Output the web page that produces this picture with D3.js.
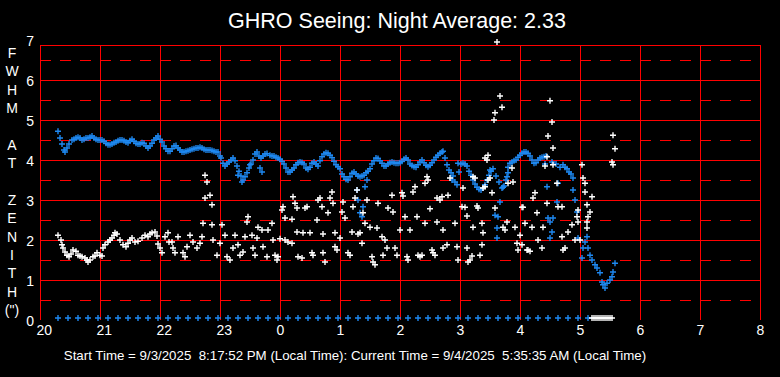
<!DOCTYPE html>
<html>
<head>
<meta charset="utf-8">
<script src="https://cdn.jsdelivr.net/npm/d3@7"></script>
<style>
  html, body { margin: 0; padding: 0; background: #000; }
  svg { display: block; font-family: "Liberation Sans", Arial, sans-serif; }
</style>
</head>
<body>
<svg id="drawing_region"></svg>
<script>
// axis labels
const hourLabels = ["20","21","22","23","0","1","2","3","4","5","6","7","8"];
const yTicks = [0,1,2,3,4,5,6,7];
const sideLabel = ["F","W","H","M","","A","T","","Z","E","N","I","T","H","(\")"];
const titleText = "GHRO Seeing: Night Average: 2.33";
const footerText = "Start Time = 9/3/2025  8:17:52 PM (Local Time): Current Time = 9/4/2025  5:35:35 AM (Local Time)";

// blue series (FWHM at zenith), [local time, arcsec]
const blueSeries = [
 ["20:18",4.72],["20:20",4.55],["20:22",4.4],["20:24",4.25],["20:25",4.2],["20:27",4.3],["20:29",4.4],["20:32",4.5],
 ["20:34",4.52],["20:36",4.55],["20:38",4.57],["20:40",4.55],["20:42",4.5],["20:44",4.52],["20:46",4.55],["20:48",4.55],
 ["20:50",4.57],["20:52",4.6],["20:54",4.55],["20:56",4.52],["20:58",4.5],["21:00",4.5],["21:02",4.5],["21:04",4.47],
 ["21:06",4.42],["21:08",4.38],["21:10",4.38],["21:12",4.4],["21:14",4.43],["21:16",4.45],["21:18",4.48],["21:20",4.5],
 ["21:22",4.5],["21:24",4.48],["21:26",4.45],["21:28",4.43],["21:30",4.48],["21:32",4.52],["21:34",4.47],["21:36",4.42],
 ["21:38",4.4],["21:40",4.4],["21:42",4.43],["21:44",4.42],["21:46",4.35],["21:48",4.3],["21:50",4.35],["21:52",4.42],
 ["21:54",4.5],["21:56",4.55],["21:58",4.6],["22:00",4.52],["22:02",4.45],["22:04",4.35],["22:06",4.28],["22:08",4.22],
 ["22:10",4.22],["22:12",4.28],["22:14",4.35],["22:16",4.36],["22:18",4.3],["22:20",4.25],["22:22",4.2],["22:24",4.2],
 ["22:26",4.22],["22:28",4.23],["22:30",4.25],["22:32",4.27],["22:34",4.28],["22:36",4.3],["22:38",4.3],["22:40",4.32],
 ["22:42",4.3],["22:44",4.27],["22:46",4.25],["22:48",4.25],["22:50",4.25],["22:52",4.24],["22:54",4.22],["22:56",4.2],
 ["22:58",4.2],["23:00",4.1],["23:01",4.05],["23:03",3.92],["23:05",3.85],["23:07",3.9],["23:09",3.95],["23:11",4.0],
 ["23:13",4.05],["23:15",3.98],["23:17",3.85],["23:19",3.72],["23:21",3.6],["23:23",3.5],["23:25",3.58],["23:27",3.68],
 ["23:29",3.8],["23:31",3.9],["23:33",4.0],["23:35",4.15],["23:37",4.2],["23:39",4.1],["23:41",4.05],["23:43",4.1],
 ["23:45",4.15],["23:47",4.16],["23:50",4.12],["23:52",4.1],["23:54",4.1],["23:56",4.07],["23:58",4.05],["0:00",4.02],
 ["0:02",3.97],["0:04",3.9],["0:06",3.8],["0:08",3.7],["0:10",3.7],["0:12",3.75],["0:14",3.8],["0:16",3.88],
 ["0:18",3.93],["0:20",3.95],["0:22",3.94],["0:24",3.9],["0:26",3.8],["0:28",3.77],["0:30",3.82],["0:32",3.92],
 ["0:34",3.95],["0:36",3.9],["0:38",3.85],["0:40",3.98],["0:42",4.08],["0:44",4.15],["0:46",4.18],["0:48",4.17],
 ["0:50",4.12],["0:52",4.06],["0:54",3.97],["0:56",3.88],["0:58",3.83],["1:00",3.78],["1:02",3.65],["1:04",3.58],
 ["1:06",3.52],["1:08",3.5],["1:10",3.58],["1:12",3.67],["1:14",3.7],["1:16",3.65],["1:18",3.6],["1:20",3.58],
 ["1:22",3.6],["1:24",3.62],["1:26",3.68],["1:28",3.72],["1:30",3.78],["1:32",3.9],["1:34",3.98],["1:36",4.05],
 ["1:38",4.04],["1:40",3.98],["1:42",3.92],["1:44",3.85],["1:46",3.85],["1:48",3.9],["1:50",3.93],["1:52",3.95],
 ["1:54",3.93],["1:56",3.92],["1:58",3.92],["2:00",3.93],["2:02",3.97],["2:04",4.02],["2:06",4.05],["2:08",4.0],
 ["2:10",3.9],["2:12",3.86],["2:14",3.83],["2:16",3.82],["2:18",3.88],["2:20",3.95],["2:22",4.0],["2:24",3.93],
 ["2:26",3.87],["2:28",3.83],["2:30",3.87],["2:32",3.93],["2:34",4.0],["2:36",4.07],["2:38",4.12],["2:40",4.17],
 ["2:42",4.2],["2:43",4.22],["2:45",4.05],["2:47",3.88],["2:49",3.75],["2:51",3.68],["2:53",3.6],["2:55",3.45],
 ["2:57",3.38],["2:59",3.7],["3:01",3.9],["3:03",3.92],["3:05",3.9],["3:07",3.85],["3:09",3.72],["3:11",3.62],
 ["3:13",3.5],["3:15",3.4],["3:17",3.32],["3:19",3.27],["3:21",3.25],["3:23",3.3],["3:25",3.38],["3:27",3.5],
 ["3:29",3.62],["3:31",3.72],["3:33",3.78],["3:36",3.6],["3:39",3.45],["3:42",3.3],["3:44",3.35],["3:46",3.5],
 ["3:48",3.68],["3:50",3.92],["3:52",3.95],["3:54",3.98],["3:56",4.0],["3:58",4.07],["4:00",4.12],["4:02",4.17],
 ["4:04",4.2],["4:06",4.2],["4:08",4.17],["4:10",4.1],["4:12",4.0],["4:14",3.92],["4:16",3.93],["4:18",4.0],
 ["4:20",4.05],["4:22",4.07],["4:24",4.08],["4:26",4.1],["4:32",3.95],["4:36",3.9],["4:40",3.82],["4:43",3.88],
 ["4:45",3.82],["4:47",3.78],["4:49",3.7],["4:51",3.65],["4:53",3.55],
 // scattered blue
 ["23:18",3.62],["23:22",3.45],["23:30",3.88],["23:40",3.8],["23:42",3.7],
 ["1:17",3.25],["1:18",3.0],["1:20",2.68],["1:22",2.58],["1:23",2.83],["1:25",3.33],["1:27",3.5],
 ["2:52",3.5],["2:58",3.92],["3:30",3.75],["3:35",2.62],["3:37",2.3],["3:37",2.05],["3:38",2.58],["3:40",2.95],
 ["3:43",3.32],["3:47",3.58],["3:48",3.82],
 ["4:25",3.9],["4:27",3.33],["4:28",2.55],["4:30",2.45],["4:30",2.05],["4:32",2.2],["4:33",2.55],["4:37",2.95],["4:38",3.42],
 ["4:53",3.25],["4:55",3.0],["4:57",2.7],["4:58",2.05],
 // final decline
 ["5:02",1.55],["5:03",1.8],["5:05",1.95],["5:07",2.08],["5:08",1.8],["5:10",1.62],["5:12",1.5],["5:15",1.38],
 ["5:17",1.3],["5:20",1.18],["5:22",0.95],["5:23",0.88],["5:25",0.8],["5:27",0.92],["5:30",1.0],["5:32",1.08],
 ["5:33",1.2],["5:35",1.42]
];

// blue readings at zero
const blueZero = ["20:18","20:28","20:38","20:48","20:58","21:08","21:18","21:28","21:38","21:48","21:58",
 "22:08","22:18","22:28","22:38","22:48","22:58","23:08","23:18","23:28","23:38","23:48","23:58",
 "0:08","0:18","0:28","0:38","0:48","0:58","1:08","1:18","1:28","1:38","1:48","1:58",
 "2:08","2:18","2:28","2:38","2:48","2:58","3:08","3:18","3:28","3:38","3:48","3:58",
 "4:08","4:18","4:28","4:38","4:48","4:58","5:08"];

// white series, [local time, arcsec]
const whiteSeries = [
 ["20:18",2.12],["20:21",2.0],["20:22",1.88],["20:23",1.8],["20:25",1.7],["20:27",1.62],["20:29",1.58],["20:31",1.65],
 ["20:33",1.75],["20:36",1.72],["20:38",1.62],["20:40",1.6],["20:42",1.58],["20:45",1.55],["20:47",1.5],["20:48",1.45],
 ["20:50",1.5],["20:53",1.58],["20:55",1.6],["20:57",1.68],["21:00",1.62],["21:02",1.6],["21:03",1.8],["21:05",1.88],
 ["21:08",1.95],["21:10",2.0],["21:12",2.05],["21:14",2.12],["21:15",2.18],["21:17",2.15],["21:20",2.0],["21:23",1.88],
 ["21:26",1.83],["21:28",1.92],["21:30",2.0],["21:32",2.05],["21:35",1.95],["21:38",1.97],["21:42",2.05],["21:45",2.12],
 ["21:48",2.08],["21:50",2.15],["21:52",2.18],["21:55",2.2],["21:57",2.1],["21:58",1.9],["22:00",1.8],["22:02",1.68],
 ["22:05",2.08],["22:08",2.18],["22:09",1.95],["22:12",1.95],["22:13",1.8],["22:15",1.68],["22:18",2.08],["22:23",1.68],
 ["22:25",1.58],["22:27",1.83],["22:30",2.12],["22:33",1.95],["22:37",1.8],["22:40",1.92],["22:42",2.08],
 ["22:45",3.62],["22:47",3.45],["22:45",3.05],["22:50",3.12],["22:52",2.88],["22:43",2.42],["22:52",2.38],["22:53",2.0],
 ["22:57",1.62],["23:00",1.92],["23:02",2.38],["23:05",2.12],["23:07",1.58],["23:10",1.5],["23:13",1.8],["23:15",2.12],
 ["23:18",1.88],["23:20",1.62],["23:23",1.7],["23:25",2.08],["23:27",2.45],["23:28",2.58],["23:32",2.12],["23:33",1.8],
 ["23:35",1.62],["23:37",2.05],["23:38",2.32],["23:42",2.25],["23:43",1.83],["23:47",1.58],["23:48",2.25],["23:52",2.42],
 ["23:53",2.0],["23:55",1.62],["23:57",1.5],["23:58",1.58],["0:00",2.03],["0:02",2.75],["0:03",2.83],["0:05",2.55],
 ["0:05",2.0],["0:08",1.95],["0:12",1.92],["0:12",2.52],["0:13",3.08],["0:15",2.92],["0:17",2.8],["0:17",2.2],
 ["0:18",1.58],["0:22",1.55],["0:23",2.18],["0:25",2.8],["0:27",2.83],["0:30",2.18],["0:32",1.68],["0:33",1.62],
 ["0:37",2.5],["0:38",3.0],["0:40",3.05],["0:42",2.83],["0:43",2.15],["0:43",1.68],["0:45",1.45],["0:48",2.68],
 ["0:50",3.05],["0:52",3.2],["0:53",2.92],["0:55",2.18],["0:55",1.83],["0:57",1.75],["1:00",2.05],["1:02",2.7],
 ["1:03",2.95],["1:05",2.55],["1:08",1.68],["1:10",1.62],["1:12",2.2],["1:13",2.83],["1:15",3.05],["1:17",3.25],
 ["1:18",2.15],["1:20",2.18],["1:22",1.92],["1:23",2.68],["1:25",2.42],["1:27",3.0],["1:30",2.32],["1:32",1.58],
 ["1:33",1.45],["1:35",1.38],["1:37",2.3],["1:38",2.92],["1:42",2.08],["1:43",1.62],["1:45",2.0],["1:47",1.8],
 ["1:48",2.8],["1:52",3.12],["1:53",2.7],["1:55",1.8],["1:57",1.62],["2:00",2.25],["2:02",3.18],["2:03",3.1],
 ["2:05",2.58],["2:07",1.58],["2:08",1.5],["2:10",2.25],["2:13",3.2],["2:15",3.33],["2:17",2.58],["2:18",1.62],
 ["2:20",1.58],["2:22",1.62],["2:25",3.42],["2:25",2.42],["2:27",3.58],["2:28",3.5],["2:30",2.78],["2:32",1.75],
 ["2:33",1.68],["2:35",1.62],["2:37",3.05],["2:37",2.45],["2:40",3.0],["2:42",3.08],["2:43",2.25],["2:43",1.8],
 ["2:47",1.88],["2:48",3.12],["2:50",3.55],["2:55",2.42],["2:57",1.83],["2:58",1.5],["3:02",2.83],["3:03",3.3],
 ["3:05",2.82],["3:07",1.8],["3:07",2.6],["3:08",1.45],["3:10",1.5],["3:12",1.6],["3:13",2.32],["3:13",3.58],
 ["3:15",3.55],["3:17",2.85],["3:18",2.8],["3:20",1.62],["3:22",1.88],["3:22",2.42],["3:23",2.18],["3:23",3.3],
 ["3:25",3.33],["3:25",4.05],["3:27",4.0],["3:28",4.12],["3:28",3.5],["3:30",3.55],["3:32",3.18],["3:34",5.0],
 ["3:35",5.18],["3:35",2.8],["3:37",6.95],["3:40",5.6],["3:42",5.32],["3:43",2.32],["3:45",2.25],["3:47",2.45],
 ["3:48",3.42],["3:52",3.8],["3:53",3.45],["3:55",2.32],["3:57",1.92],["3:58",1.75],["4:00",2.12],["4:02",1.88],
 ["4:02",2.82],["4:03",2.82],["4:05",2.42],["4:07",1.75],["4:08",1.75],["4:10",1.72],["4:12",2.32],["4:13",3.05],
 ["4:15",3.18],["4:17",2.68],["4:18",2.0],["4:22",1.8],["4:23",2.32],["4:25",3.85],["4:27",4.08],["4:27",2.92],
 ["4:28",4.6],["4:30",5.48],["4:32",4.95],["4:33",4.3],["4:33",3.88],["4:37",3.42],["4:38",2.83],["4:42",2.83],
 ["4:42",2.08],["4:43",1.75],["4:45",1.8],["4:48",2.2],["4:52",2.38],["4:55",2.0],["4:57",2.58],["4:58",2.45],
 ["4:58",2.75],["5:00",2.0],["5:02",3.88],["5:03",3.55],["5:05",3.42],["5:05",3.2],["5:07",2.88],["5:07",2.45],
 ["5:07",2.3],["5:08",2.58],["5:10",2.7],["5:12",3.08],["5:32",3.95],["5:33",3.88],["5:33",4.62],["5:35",4.28]
];

// white readings at zero
const whiteZero = ["5:12","5:14","5:16","5:18","5:20","5:22","5:24","5:26","5:28","5:30","5:32"];

class SeeingChart {

    constructor( config ) {
        this.config = config;
        this.init();
    }

    // minutes after 20:00
    minutes( s ) {
        const [h, m] = s.split(":").map(Number);
        return ((h < 12 ? h + 24 : h) - 20) * 60 + m;
    }

    init() {
        let self = this;
        const c = self.config;

        self.svg = d3.select( c.parent )
            .attr('width', c.width)
            .attr('height', c.height)
            .style('background', '#000');

        self.xscale = d3.scaleLinear()
            .domain([0, 720])
            .range([c.left, c.right]);

        self.yscale = d3.scaleLinear()
            .domain([0, 7])
            .range([c.bottom, c.yTop]);
    }

    render() {
        let self = this;
        const c = self.config;
        const x = self.xscale, y = self.yscale;

        const grid = self.svg.append('g')
            .attr('stroke', '#ff0000')
            .attr('stroke-width', 1)
            .attr('shape-rendering', 'crispEdges');

        // dashed half lines
        grid.selectAll('.half')
            .data(d3.range(0.5, 7, 1))
            .join('line')
            .attr('x1', c.left).attr('x2', c.right)
            .attr('y1', d => Math.round(y(d)) + 0.5)
            .attr('y2', d => Math.round(y(d)) + 0.5)
            .attr('stroke-dasharray', '11,9');

        // solid value lines
        grid.selectAll('.hline')
            .data(yTicks.filter(d => d > 0 && d < 7))
            .join('line')
            .attr('x1', c.left).attr('x2', c.right)
            .attr('y1', d => Math.round(y(d)) + 0.5)
            .attr('y2', d => Math.round(y(d)) + 0.5);

        // hour lines
        grid.selectAll('.vline')
            .data(hourLabels.map((d, i) => i * 60))
            .join('line')
            .attr('x1', d => Math.round(x(d)) + 0.5)
            .attr('x2', d => Math.round(x(d)) + 0.5)
            .attr('y1', c.top).attr('y2', c.bottom);

        grid.append('line')
            .attr('x1', c.left).attr('x2', c.right + 1)
            .attr('y1', c.top + 0.5).attr('y2', c.top + 0.5);

        // markers
        const plus = 'M-3,0H3M0,-3V3';
        const drawMarks = (data, color) => {
            self.svg.append('g')
                .selectAll('path')
                .data(data)
                .join('path')
                .attr('d', plus)
                .attr('transform', d => `translate(${x(self.minutes(d[0]))},${y(d[1])})`)
                .attr('fill', 'none')
                .attr('stroke', color)
                .attr('stroke-width', 1.4);
        };
        drawMarks(blueZero.map(t => [t, 0.05]), c.blue);
        drawMarks(blueSeries, c.blue);
        drawMarks(whiteZero.map(t => [t, 0.05]), '#ffffff');
        drawMarks(whiteSeries, '#ffffff');

        // axes
        const xaxis = d3.axisBottom(x)
            .tickValues(hourLabels.map((d, i) => i * 60))
            .tickFormat((d, i) => hourLabels[i])
            .tickSize(0).tickPadding(0);
        self.svg.append('g')
            .attr('transform', `translate(0, ${c.bottom})`)
            .call(xaxis)
            .call(g => g.select('.domain').remove())
            .selectAll('text')
            .attr('x', -4).attr('y', 15).attr('dy', 0)
            .attr('text-anchor', 'start')
            .attr('fill', '#fff')
            .style('font-size', '14px')
            .style('font-family', '"Liberation Sans", Arial, sans-serif');

        const yaxis = d3.axisLeft(y)
            .tickValues(yTicks)
            .tickFormat(d3.format('d'))
            .tickSize(0).tickPadding(0);
        self.svg.append('g')
            .attr('transform', `translate(${c.left - 6}, 0)`)
            .call(yaxis)
            .call(g => g.select('.domain').remove())
            .selectAll('text')
            .attr('x', 0).attr('dy', '0.36em')
            .attr('fill', '#fff')
            .style('font-size', '14px')
            .style('font-family', '"Liberation Sans", Arial, sans-serif');

        // texts
        self.svg.append('text')
            .attr('x', 397).attr('y', 28)
            .attr('text-anchor', 'middle')
            .attr('fill', '#fff')
            .style('font-size', '21.5px')
            .text(titleText);

        self.svg.append('g')
            .selectAll('text')
            .data(sideLabel)
            .join('text')
            .attr('x', 12)
            .attr('y', (d, i) => 58 + i * 18.36)
            .attr('text-anchor', 'middle')
            .attr('fill', '#fff')
            .style('font-size', '14px')
            .text(d => d);

        self.svg.append('text')
            .attr('x', 355).attr('y', 360)
            .attr('text-anchor', 'middle')
            .attr('fill', '#fff')
            .style('font-size', '13.3px')
            .style('white-space', 'pre')
            .text(footerText);
    }
}

const chart = new SeeingChart({
    parent: '#drawing_region',
    width: 780,
    height: 377,
    left: 40, right: 760,
    top: 45, bottom: 320, yTop: 40,
    blue: '#1e88f0'
});
chart.render();
</script>
</body>
</html>
